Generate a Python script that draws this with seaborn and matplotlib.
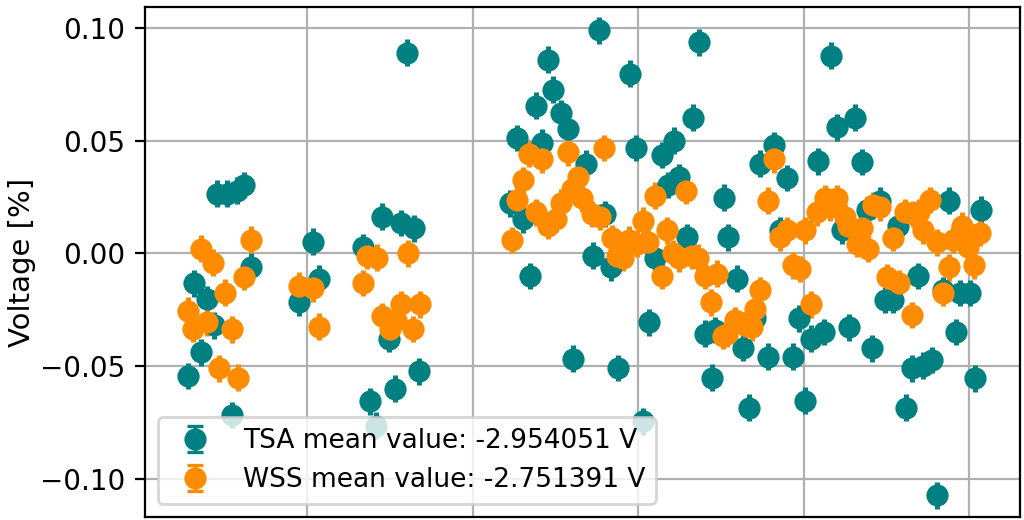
import matplotlib
matplotlib.use("Agg")
import matplotlib.pyplot as plt
import seaborn as sns

# readings, x in sample units (grid every 10)
tsa_x = [2.81, 3.17, 3.60, 3.96, 4.38, 4.56, 5.17, 5.47, 5.77, 6.19, 6.62,
         9.52, 10.36, 10.72,
         13.38, 13.81, 14.17, 14.53, 14.95, 15.32, 15.68, 16.04, 16.47, 16.77,
         22.27, 22.69, 23.05, 23.47, 23.84, 24.20, 24.56, 24.86, 25.35, 25.77,
         26.07, 26.86, 27.28, 27.64, 28.01, 28.37, 28.79, 29.52, 29.88, 30.30,
         30.67, 31.03, 31.45, 31.81, 32.17, 32.48, 32.96, 33.32, 33.69, 34.05,
         34.47, 34.65, 35.20, 35.44, 35.98, 36.34, 36.70, 37.07, 37.37, 37.85,
         38.22, 38.58, 39.00, 39.37, 39.73, 40.09, 40.45, 40.88, 41.24, 41.66,
         42.02, 42.33, 42.75, 43.11, 43.53, 43.84, 44.14, 44.62, 44.92, 45.41,
         45.71, 46.19, 46.56, 46.92, 47.22, 47.76, 48.06, 48.43, 48.79, 49.21,
         49.46, 50.06, 50.36, 50.73]
tsa_y = [-0.0545, -0.0133, -0.0439, -0.0200, -0.0319, 0.0266, 0.0266, -0.0718, 0.0279, 0.0302, -0.0058,
         -0.0217, 0.0053, -0.0111,
         0.0027, -0.0656, -0.0763, 0.0164, -0.0377, -0.0599, 0.0137, 0.0891, 0.0111, -0.0523,
         0.0222, 0.0514, 0.0151, -0.0098, 0.0656, 0.0492, 0.0860, 0.0727, 0.0621, 0.0550,
         -0.0466, 0.0399, -0.0009, 0.0989, 0.0177, -0.0062, -0.0506, 0.0798, 0.0466, -0.0745,
         -0.0306, -0.0018, 0.0435, 0.0302, 0.0501, 0.0337, 0.0071, 0.0603, 0.0936, -0.0355,
         -0.0550, -0.0341, 0.0248, 0.0071, -0.0111, -0.0417, -0.0683, -0.0284, 0.0399, -0.0457,
         0.0479, 0.0102, 0.0333, -0.0457, -0.0288, -0.0652, -0.0377, 0.0408, -0.0350, 0.0878,
         0.0559, 0.0102, -0.0328, 0.0603, 0.0404, 0.0191, -0.0421, 0.0235, -0.0208, -0.0208,
         0.0124, -0.0683, -0.0510, -0.0098, -0.0497, -0.0474, -0.1073, -0.0164, 0.0235, -0.0350,
         -0.0177, -0.0177, -0.0554, 0.0195]

wss_x = [2.81, 3.11, 3.60, 3.96, 4.32, 4.68, 5.05, 5.47, 5.83, 6.19, 6.62,
         9.52, 10.36, 10.72,
         13.38, 13.62, 14.23, 14.53, 15.02, 15.38, 15.68, 16.10, 16.41, 16.83,
         22.39, 22.69, 23.05, 23.41, 23.84, 24.20, 24.56, 25.05, 25.35, 25.77,
         26.01, 26.38, 26.62, 27.22, 27.70, 27.94, 28.43, 28.73, 29.09, 29.46,
         29.94, 30.30, 30.60, 31.03, 31.45, 31.75, 32.11, 32.48, 32.90, 33.26,
         33.63, 34.05, 34.41, 34.77, 35.14, 35.38, 35.86, 36.46, 36.89, 37.07,
         37.37, 37.85, 38.22, 38.58, 39.00, 39.37, 39.79, 40.09, 40.45, 40.82,
         41.30, 41.60, 42.02, 42.51, 42.69, 43.23, 43.53, 43.90, 44.20, 44.62,
         45.04, 45.41, 45.77, 46.13, 46.56, 46.62, 46.98, 47.22, 47.64, 48.06,
         48.43, 48.79, 49.03, 49.58, 49.94, 50.30, 50.67]
wss_y = [-0.0253, -0.0333, 0.0022, -0.0306, -0.0040, -0.0510, -0.0173, -0.0337, -0.0550, -0.0106, 0.0062,
         -0.0142, -0.0155, -0.0324,
         -0.0129, -0.0009, -0.0018, -0.0279, -0.0333, -0.0297, -0.0226, 0.0000, -0.0333, -0.0226,
         0.0058, 0.0239, 0.0324, 0.0443, 0.0182, 0.0417, 0.0124, 0.0155, 0.0226, 0.0448,
         0.0288, 0.0337, 0.0244, 0.0177, 0.0160, 0.0466, 0.0067, -0.0009, -0.0018, 0.0062,
         0.0044, 0.0146, 0.0049, 0.0257, -0.0098, 0.0102, 0.0004, -0.0022, 0.0279, -0.0009,
         -0.0018, -0.0098, -0.0217, -0.0089, -0.0364, -0.0355, -0.0297, -0.0319, -0.0328, -0.0244,
         -0.0164, 0.0235, 0.0417, 0.0071, 0.0102, -0.0053, -0.0067, 0.0102, -0.0226, 0.0182,
         0.0244, 0.0204, 0.0244, 0.0160, 0.0124, 0.0044, 0.0111, 0.0022, 0.0213, 0.0204,
         -0.0106, 0.0067, -0.0129, 0.0182, -0.0271, 0.0177, 0.0182, 0.0102, 0.0239, 0.0049,
         -0.0177, -0.0062, 0.0058, 0.0124, 0.0027, -0.0053, 0.0093]

bar_err = 0.0058
tsa_mean = -2.954051
wss_mean = -2.751391

sns.set_style("ticks", {"axes.grid": True, "grid.color": "#b0b0b0",
                        "axes.edgecolor": "black", "text.color": "black",
                        "axes.labelcolor": "black", "xtick.color": "black",
                        "ytick.color": "black"})
plt.rcParams['font.family'] = ['DejaVu Sans']

fig = plt.figure(figsize=(5.12, 2.6), dpi=200)
ax = fig.add_axes([0.1416, 0.006, 0.8545, 0.9805])

ax.errorbar(tsa_x, tsa_y, yerr=bar_err, fmt='o', color='teal', ms=7,
            elinewidth=1.8, capsize=0, label='_nolegend_')
ax.errorbar(wss_x, wss_y, yerr=bar_err, fmt='o', color='darkorange', ms=7,
            elinewidth=1.8, capsize=0, label='_nolegend_')

# legend entries show the capped error bar style
nan = float('nan')
h1 = ax.errorbar([nan], [nan], yerr=[bar_err], fmt='o', color='teal', ms=7,
                 elinewidth=1.2, capsize=3, capthick=1.2,
                 label=f"TSA mean value: {tsa_mean:.6f} V")
h2 = ax.errorbar([nan], [nan], yerr=[bar_err], fmt='o', color='darkorange', ms=7,
                 elinewidth=1.2, capsize=3, capthick=1.2,
                 label=f"WSS mean value: {wss_mean:.6f} V")

ax.set_xlim(0.21, 53.08)
ax.set_ylim(-0.1168, 0.1093)
ax.set_xticks([10, 20, 30, 40, 50])
ax.set_xticklabels([])
ax.tick_params(axis='x', length=0)
ax.set_yticks([-0.10, -0.05, 0.00, 0.05, 0.10])
ax.tick_params(axis='y', labelsize=10, length=3.5, width=0.8)
ax.grid(True, linewidth=0.8)
ax.set_ylabel("Voltage [%]", fontsize=10.5, labelpad=1.5)
for s in ax.spines.values():
    s.set_linewidth(0.8)

ax.legend(handles=[h1, h2], loc='lower left', fontsize=9.5)

fig.savefig("out.png", dpi=200)
